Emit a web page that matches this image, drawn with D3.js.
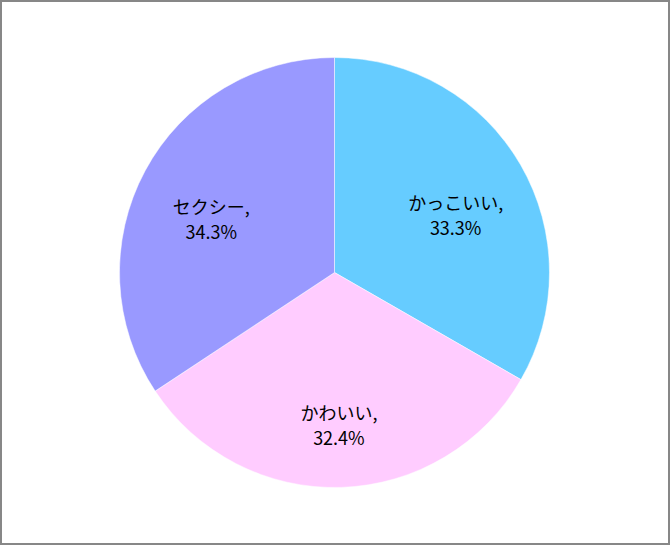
<!DOCTYPE html>
<html>
<head>
<meta charset="utf-8">
<script src="https://cdn.jsdelivr.net/npm/d3@7"></script>
<style>
  html, body { margin: 0; padding: 0; background: #fff; }
  svg { display: block; }
</style>
</head>
<body>
<div id="chart"></div>
<script>
// Data
const categories = ["かっこいい", "かわいい", "セクシー"];
const values = [33.3, 32.4, 34.3];
const colors = ["#66CCFF", "#FFCCFF", "#9999FF"];

const W = 670, H = 545;
const cx = 334.5, cy = 272.5, R = 215;

const svg = d3.select("#chart").append("svg")
  .attr("width", W).attr("height", H);

svg.append("rect")
  .attr("x", 1).attr("y", 1)
  .attr("width", W - 2).attr("height", H - 2)
  .attr("fill", "#fff")
  .attr("stroke", "#878787")
  .attr("stroke-width", 2);

const data = categories.map((c, i) => ({ name: c, value: values[i], color: colors[i] }));

const pie = d3.pie().value(d => d.value).sort(null);
const arc = d3.arc().innerRadius(0).outerRadius(R);
const labelArc = d3.arc().innerRadius(140).outerRadius(140);

const g = svg.append("g").attr("transform", `translate(${cx},${cy})`);
const arcs = pie(data);

g.selectAll("path.slice").data(arcs).enter().append("path")
  .attr("class", "slice")
  .attr("d", arc)
  .attr("fill", d => d.data.color)
  .attr("stroke", "#ffffff")
  .attr("stroke-width", 0.5);

const labels = g.selectAll("text.lbl").data(arcs).enter().append("text")
  .attr("class", "lbl")
  .attr("text-anchor", "middle")
  .attr("font-family", "'Noto Sans CJK JP', 'Noto Sans', sans-serif")
  .attr("font-size", "18px")
  .attr("fill", "#000");

labels.each(function(d) {
  const [x, y0] = labelArc.centroid(d);
  const y = y0 + 13;
  const t = d3.select(this);
  t.append("tspan").attr("x", x).attr("y", y - 5).text(d.data.name + ",");
  t.append("tspan").attr("x", x).attr("y", y + 20).text(d.data.value.toFixed(1) + "%");
});
</script>
</body>
</html>
